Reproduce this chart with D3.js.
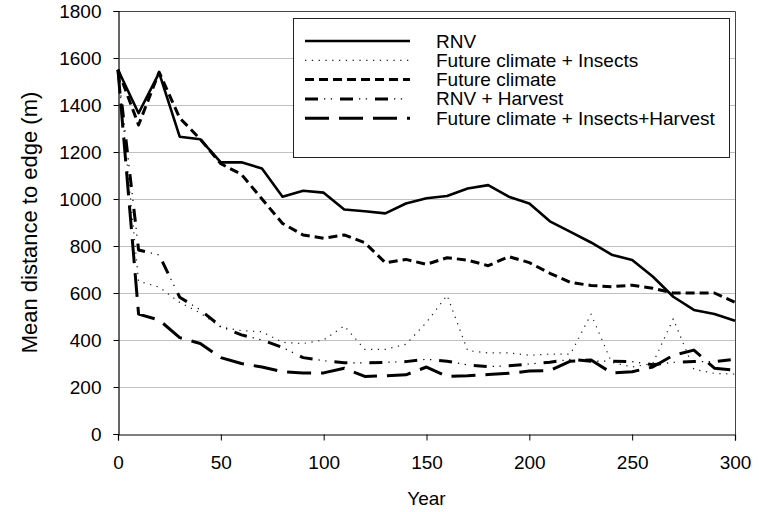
<!DOCTYPE html>
<html>
<head>
<meta charset="utf-8">
<script src="https://cdn.jsdelivr.net/npm/d3@7"></script>
<style>
  body { margin: 0; background: #fff; }
  svg { font-family: "Liberation Sans", Arial, sans-serif; }
</style>
</head>
<body>
<div id="chart"></div>
<script>
// years 0..300, every 10
const years = d3.range(0, 301, 10);

const rnv = [1550, 1365, 1537, 1265, 1254, 1156, 1156, 1130, 1010, 1035, 1027,
  955, 948, 939, 981, 1003, 1013, 1045, 1059, 1010, 981,
  905, 860, 815, 763, 740, 670, 584, 528, 511, 482];
const futureInsects = [1550, 650, 625, 560, 515, 455, 440, 435, 390, 385, 400,
  460, 360, 360, 382, 475, 590, 355, 345, 345, 335,
  340, 340, 510, 305, 285, 300, 490, 275, 258, 255];
const futureClimate = [1550, 1315, 1540, 1345, 1255, 1150, 1105, 1000, 896, 847, 833,
  847, 814, 729, 743, 722, 750, 740, 716, 755, 729,
  684, 645, 632, 627, 633, 620, 600, 600, 600, 560];
const rnvHarvest = [1550, 783, 762, 582, 528, 457, 422, 400, 368, 325, 312,
  303, 303, 305, 308, 318, 310, 294, 287, 290, 298,
  305, 318, 310, 310, 308, 295, 305, 308, 308, 318];
const futureInsectsHarvest = [1550, 510, 485, 410, 385, 325, 300, 285, 265, 260, 260,
  280, 245, 248, 252, 285, 245, 248, 253, 258, 268,
  270, 310, 315, 260, 265, 285, 335, 357, 280, 272];

const seriesNames = ["RNV", "Future climate + Insects", "Future climate",
  "RNV + Harvest", "Future climate + Insects+Harvest"];
const seriesValues = [rnv, futureInsects, futureClimate, rnvHarvest, futureInsectsHarvest];

const xTicks = [0, 50, 100, 150, 200, 250, 300];
const yTicks = d3.range(0, 1801, 200);

const width = 759, height = 512;
const margin = { top: 11, right: 24, bottom: 78, left: 118 };

// line looks, one list of strokes per series
const styles = [
  [{ w: 2.6, dash: null }],
  [{ w: 1.2, dash: "1.3,5.5", color: "#222" }],
  [{ w: 3, dash: "9,5" }],
  [{ w: 3, dash: "13,22" }, { w: 1.2, dash: "0,19,1.3,5.5,1.3,7.9" }],
  [{ w: 3, dash: "24,10" }]
];

const svg = d3.select("#chart").append("svg")
  .attr("width", width)
  .attr("height", height);

const x = d3.scaleLinear().domain([0, 300]).range([margin.left, width - margin.right]);
const y = d3.scaleLinear().domain([0, 1800]).range([height - margin.bottom, margin.top]);

// gridlines
svg.append("g")
  .selectAll("line")
  .data(yTicks.slice(1))
  .enter()
  .append("line")
  .attr("x1", x(0))
  .attr("x2", x(300))
  .attr("y1", (d) => Math.round(y(d)) + 0.5)
  .attr("y2", (d) => Math.round(y(d)) + 0.5)
  .attr("stroke", "#c0c0c0")
  .attr("stroke-width", 1);

// plot frame top / right
svg.append("path")
  .attr("d", `M${x(0)},${Math.round(y(1800)) + 0.5}H${Math.round(x(300)) + 0.5}V${y(0)}`)
  .attr("fill", "none")
  .attr("stroke", "#444")
  .attr("stroke-width", 1);

const line = d3.line()
  .x((d, i) => x(years[i]))
  .y((d) => y(d));

seriesValues.forEach((vals, s) => {
  styles[s].forEach((st) => {
    svg.append("path")
      .datum(vals)
      .attr("d", line)
      .attr("fill", "none")
      .attr("stroke", st.color || "#000")
      .attr("stroke-width", st.w)
      .attr("stroke-dasharray", st.dash)
      .attr("stroke-linejoin", "round");
  });
});

// axes
const yAxis = svg.append("g")
  .attr("transform", `translate(${Math.round(x(0)) + 0.5},0)`)
  .call(d3.axisLeft(y).tickValues(yTicks).tickSize(5).tickPadding(12).tickFormat(d3.format("d")));
const xAxis = svg.append("g")
  .attr("transform", `translate(0,${Math.round(y(0)) + 0.5})`)
  .call(d3.axisBottom(x).tickValues(xTicks).tickSize(6).tickPadding(15).tickFormat(d3.format("d")));

[yAxis, xAxis].forEach((g) => {
  g.select(".domain").attr("stroke", "#000").attr("stroke-width", 1.2);
  g.selectAll(".tick line").attr("stroke", "#000");
  g.selectAll("text")
    .attr("fill", "#000")
    .style("font-size", "19px")
    .style("font-family", "'Liberation Sans', Arial, sans-serif");
});

// axis titles
svg.append("text")
  .attr("x", x(150))
  .attr("y", 505)
  .attr("text-anchor", "middle")
  .style("font-size", "19px")
  .text("Year");

svg.append("text")
  .attr("transform", `translate(37,${(y(0) + y(1800)) / 2}) rotate(-90)`)
  .attr("text-anchor", "middle")
  .style("font-size", "22px")
  .text("Mean distance to edge (m)");

// legend
const legend = svg.append("g");
legend.append("rect")
  .attr("x", 293.5)
  .attr("y", 18.5)
  .attr("width", 436)
  .attr("height", 139)
  .attr("fill", "#fff")
  .attr("stroke", "#222")
  .attr("stroke-width", 1);

seriesNames.forEach((name, s) => {
  const ly = 41 + s * 19.3;
  styles[s].forEach((st) => {
    legend.append("line")
      .attr("x1", 305)
      .attr("x2", 410)
      .attr("y1", ly)
      .attr("y2", ly)
      .attr("stroke", st.color || "#000")
      .attr("stroke-width", st.w)
      .attr("stroke-dasharray", st.dash);
  });
  legend.append("text")
    .attr("x", 436)
    .attr("y", ly + 6.5)
    .style("font-size", "19px")
    .text(name);
});
</script>
</body>
</html>
